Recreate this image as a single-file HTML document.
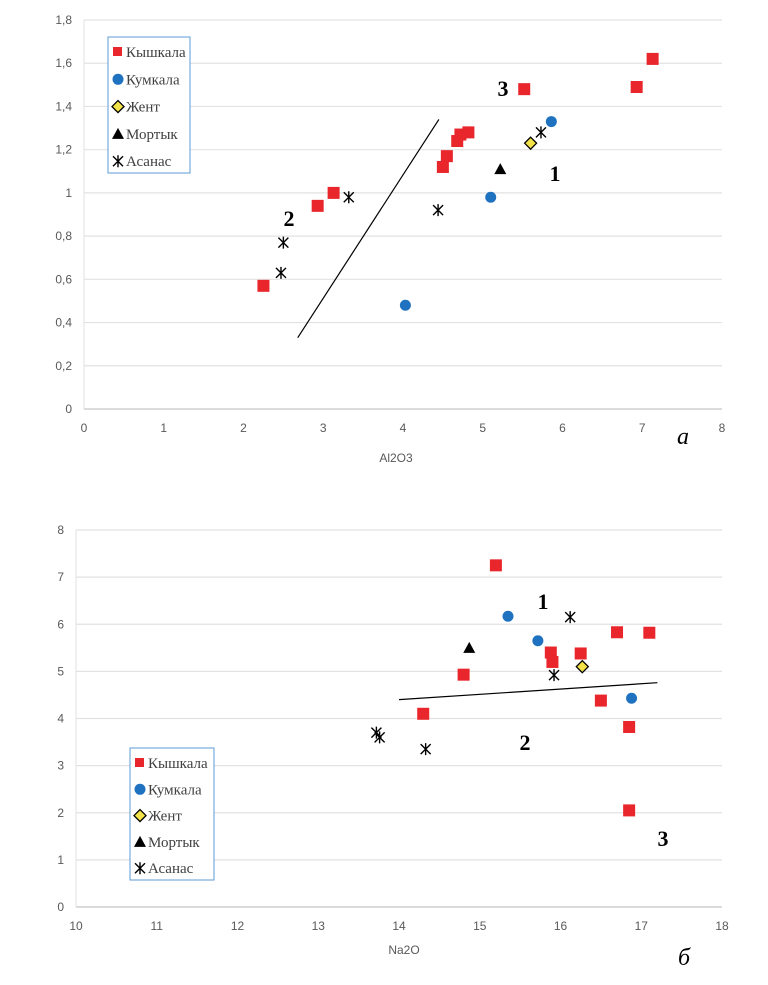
<!DOCTYPE html>
<html><head><meta charset="utf-8"><style>
body{margin:0;background:#fff;}
svg text{font-family:"Liberation Sans",sans-serif;}
.tick{font-size:12px;fill:#595959;}
.lg{font-family:"Liberation Serif","DejaVu Serif",serif !important;font-size:15px;fill:#404040;}
.zone{font-family:"Liberation Serif",serif !important;font-weight:bold;font-size:22px;fill:#000;}
</style></head><body>
<svg id="svg" width="768" height="980"></svg>
<script>
const topKyshX=[2.25,2.93,3.13,4.5,4.55,4.68,4.72,4.82,5.52,6.93,7.13];
const topKyshY=[0.57,0.94,1.0,1.12,1.17,1.24,1.27,1.28,1.48,1.49,1.62];
const topKumX=[4.03,5.1,5.86];
const topKumY=[0.48,0.98,1.33];
const topZhentX=[5.6];
const topZhentY=[1.23];
const topMortX=[5.22];
const topMortY=[1.11];
const topAsanX=[2.47,2.5,3.32,4.44,5.73];
const topAsanY=[0.63,0.77,0.98,0.92,1.28];
const topLineX=[2.68,4.45];
const topLineY=[0.33,1.34];
const topXTicks=[0,1,2,3,4,5,6,7,8];
const topYTicks=["0","0,2","0,4","0,6","0,8","1","1,2","1,4","1,6","1,8"];

const botKyshX=[15.2,14.8,14.3,15.88,15.9,16.25,16.7,17.1,16.5,16.85,16.85];
const botKyshY=[7.25,4.93,4.1,5.4,5.2,5.38,5.83,5.82,4.38,3.82,2.05];
const botKumX=[15.35,15.72,16.88];
const botKumY=[6.17,5.65,4.43];
const botZhentX=[16.27];
const botZhentY=[5.1];
const botMortX=[14.87];
const botMortY=[5.5];
const botAsanX=[13.72,13.76,14.33,15.92,16.12];
const botAsanY=[3.7,3.6,3.35,4.92,6.15];
const botLineX=[14,17.2];
const botLineY=[4.4,4.76];
const botXTicks=[10,11,12,13,14,15,16,17,18];
const botYTicks=[0,1,2,3,4,5,6,7,8];

const NS="http://www.w3.org/2000/svg";
const svg=document.getElementById('svg');
function el(tag,attrs,parent,txt){const e=document.createElementNS(NS,tag);for(const k in attrs)e.setAttribute(k,attrs[k]);if(txt!==undefined)e.textContent=txt;(parent||svg).appendChild(e);return e;}

function marker(g,type,cx,cy){
  let m;
  if(type==='sq'){m=el('rect',{x:cx-6,y:cy-6,width:12,height:12,fill:'#e8262b'},g);}
  else if(type==='ci'){m=el('circle',{cx:cx,cy:cy,r:5.5,fill:'#1f72c0'},g);}
  else if(type==='di'){m=el('polygon',{points:`${cx},${cy-6} ${cx+6},${cy} ${cx},${cy+6} ${cx-6},${cy}`,fill:'#f2e34a',stroke:'#000','stroke-width':1.3},g);}
  else if(type==='tr'){m=el('polygon',{points:`${cx},${cy-6} ${cx+6},${cy+5} ${cx-6},${cy+5}`,fill:'#000'},g);}
  else {m=el('path',{d:`M${cx-5} ${cy-5}L${cx+5} ${cy+5}M${cx+5} ${cy-5}L${cx-5} ${cy+5}M${cx} ${cy-6}L${cx} ${cy+6}`,stroke:'#000','stroke-width':1.4,fill:'none'},g);}
  return m;
}

function chart(o){
  const g=el('g',{});
  
  
  const sx=v=>o.x0+(v-o.xmin)/(o.xmax-o.xmin)*(o.x1-o.x0);
  const sy=v=>o.y0-(v-o.ymin)/(o.ymax-o.ymin)*(o.y0-o.y1);
  o.yt.forEach((t,i)=>{
    const v=o.ymin+i*(o.ymax-o.ymin)/(o.yt.length-1);
    const y=sy(v);
    const l=el('line',{x1:o.x0,x2:o.x1,y1:y,y2:y,stroke:i===0?'#cfcfcf':'#e2e2e2','stroke-width':i===0?1.5:1.2},g);
    
    
    const tx=el('text',{x:o.x0-12,y:y+4,'text-anchor':'end',class:'tick'},g,t);
    
    
  });
  const ax=el('line',{x1:o.x0,x2:o.x0,y1:o.y1,y2:o.y0,stroke:'#e2e2e2','stroke-width':1},g);
  
  
  o.xt.forEach(v=>{
    const tx=el('text',{x:sx(v),y:o.y0+23,'text-anchor':'middle',class:'tick'},g,v);
    
    
  });
  const ln=el('line',{x1:sx(o.lx[0]),y1:sy(o.ly[0]),x2:sx(o.lx[1]),y2:sy(o.ly[1]),stroke:'#000','stroke-width':1.2},g);
  
  
  o.series.forEach(s=>{
    s.xs.forEach((xv,i)=>{
      const m=marker(g,s.t,sx(xv),sy(s.ys[i]));
      
      
    });
  });
  const at=el('text',{x:o.atx,y:o.aty,'text-anchor':'middle',class:'tick'},g,o.atitle);
  
  
  const lg=el('g',{},g);
  
  
  el('rect',{x:o.lgx,y:o.lgy,width:o.lgw,height:o.lgh,fill:'#fff',stroke:'#5b9bd5','stroke-width':1},lg);
  const names=['Кышкала','Кумкала','Жент','Мортык','Асанас'];
  const types=['sq','ci','di','tr','as'];
  names.forEach((n,i)=>{
    const y=o.lgy+15+i*o.lgstep;
    const e=el('g',{},lg);
    
    
    const m=marker(e,types[i],o.lgx+10,y);
    if(types[i]==='sq'){m.setAttribute('x',o.lgx+5);m.setAttribute('y',y-5);m.setAttribute('width',9);m.setAttribute('height',9);}
    el('text',{x:o.lgx+18,y:y+5,class:'lg'},e,n);
  });
  return {g,sx,sy};
}

const s1=[{n:'kyshkala',t:'sq',xs:topKyshX,ys:topKyshY},{n:'kumkala',t:'ci',xs:topKumX,ys:topKumY},{n:'zhent',t:'di',xs:topZhentX,ys:topZhentY},{n:'mortyk',t:'tr',xs:topMortX,ys:topMortY},{n:'asanas',t:'as',xs:topAsanX,ys:topAsanY}];
chart({name:'chart-a',x0:84,x1:722,y0:409,y1:20,xmin:0,xmax:8,ymin:0,ymax:1.8,yt:topYTicks,xt:topXTicks,lx:topLineX,ly:topLineY,series:s1,atitle:'Al2O3',atx:396,aty:462,lgx:108,lgy:37,lgw:82,lgh:136,lgstep:27.3});
const s2=[{n:'kyshkala',t:'sq',xs:botKyshX,ys:botKyshY},{n:'kumkala',t:'ci',xs:botKumX,ys:botKumY},{n:'zhent',t:'di',xs:botZhentX,ys:botZhentY},{n:'mortyk',t:'tr',xs:botMortX,ys:botMortY},{n:'asanas',t:'as',xs:botAsanX,ys:botAsanY}];
chart({name:'chart-b',x0:76,x1:722,y0:907,y1:530,xmin:10,xmax:18,ymin:0,ymax:8,yt:botYTicks.map(String),xt:botXTicks,lx:botLineX,ly:botLineY,series:s2,atitle:'Na2O',atx:404,aty:954,lgx:130,lgy:748,lgw:84,lgh:132,lgstep:26.3});

function label(x,y,t,cls,name){const e=el('text',{x:x,y:y,'text-anchor':'middle',class:cls},svg,t);return e;}
label(503,96,'3','zone','zone-label-3');
label(289,226,'2','zone','zone-label-2');
label(555,181,'1','zone','zone-label-1');
label(543,609,'1','zone','zone-label-1');
label(525,750,'2','zone','zone-label-2');
label(663,846,'3','zone','zone-label-3');
const a=label(683,444,'а','zone','panel-label-a');a.setAttribute('style','font-style:italic;font-weight:normal;font-size:24px');
const b=label(684,965,'б','zone','panel-label-b');b.setAttribute('style','font-style:italic;font-weight:normal;font-size:24px');
</script>
</body></html>
